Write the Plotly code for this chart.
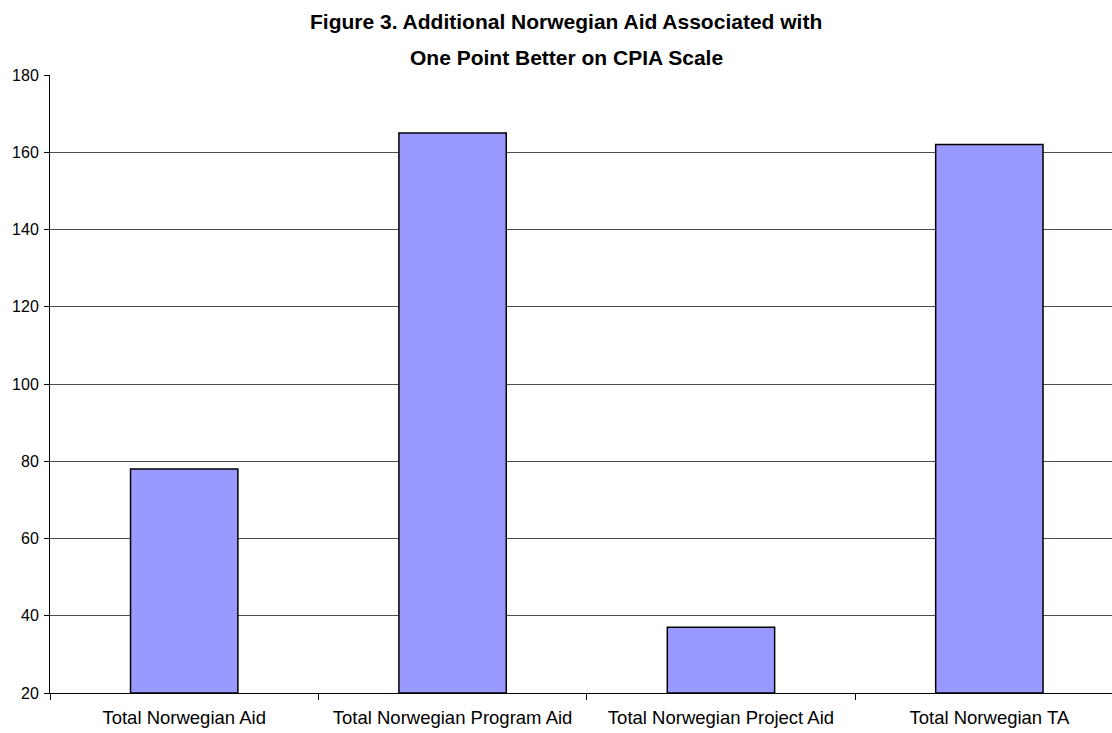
import plotly.graph_objects as go

categories = [
    "Total Norwegian Aid",
    "Total Norwegian Program Aid",
    "Total Norwegian Project Aid",
    "Total Norwegian TA",
]
values = [78, 165, 37, 162]
y_ticks = [20, 40, 60, 80, 100, 120, 140, 160, 180]
title_lines = [
    "Figure 3. Additional Norwegian Aid Associated with",
    "One Point Better on CPIA Scale",
]

FONT = "Liberation Sans, Arial, sans-serif"
AXIS_FLOOR = 20

fig = go.Figure(
    go.Bar(
        x=categories,
        y=[v - AXIS_FLOOR for v in values],
        base=AXIS_FLOOR,
        width=0.4,
        marker=dict(color="#9999FF", line=dict(color="#000000", width=1.5)),
        hoverinfo="x+text",
        hovertext=[str(v) for v in values],
    )
)

PLOT_TOP = 75
PLOT_H = 733 - PLOT_TOP - 40


def paper_y(px):
    # convert a pixel row above the plot area to paper coordinates
    return 1 + (PLOT_TOP - px) / PLOT_H


fig.update_layout(
    width=1112,
    height=733,
    margin=dict(l=50, r=0, t=PLOT_TOP, b=40),
    paper_bgcolor="white",
    plot_bgcolor="white",
    showlegend=False,
    font=dict(family=FONT, size=14, color="#000000"),
    annotations=[
        dict(
            text="<b>" + line + "</b>",
            xref="paper", yref="paper",
            x=0.486, y=paper_y(py),
            xanchor="center", yanchor="middle",
            showarrow=False,
            font=dict(family=FONT, size=21, color="#000000"),
        )
        for line, py in zip(title_lines, [22, 57])
    ],
)

fig.update_xaxes(
    type="category",
    range=[-0.5, 3.457],
    tickson="boundaries",
    ticks="outside",
    ticklen=6,
    tickcolor="#000000",
    showline=True,
    linecolor="#000000",
    linewidth=1,
    showgrid=False,
    ticklabelstandoff=8,
    tickfont=dict(family=FONT, size=18.5, color="#000000"),
)

fig.update_yaxes(
    range=[20, 180],
    tickvals=y_ticks,
    ticks="outside",
    ticklen=5,
    tickcolor="#000000",
    showline=True,
    linecolor="#000000",
    linewidth=1,
    showgrid=True,
    gridcolor="#4d4d4d",
    gridwidth=1,
    zeroline=False,
    ticklabelstandoff=2,
    tickfont=dict(family=FONT, size=16, color="#000000"),
)

fig.write_html("out.html")
